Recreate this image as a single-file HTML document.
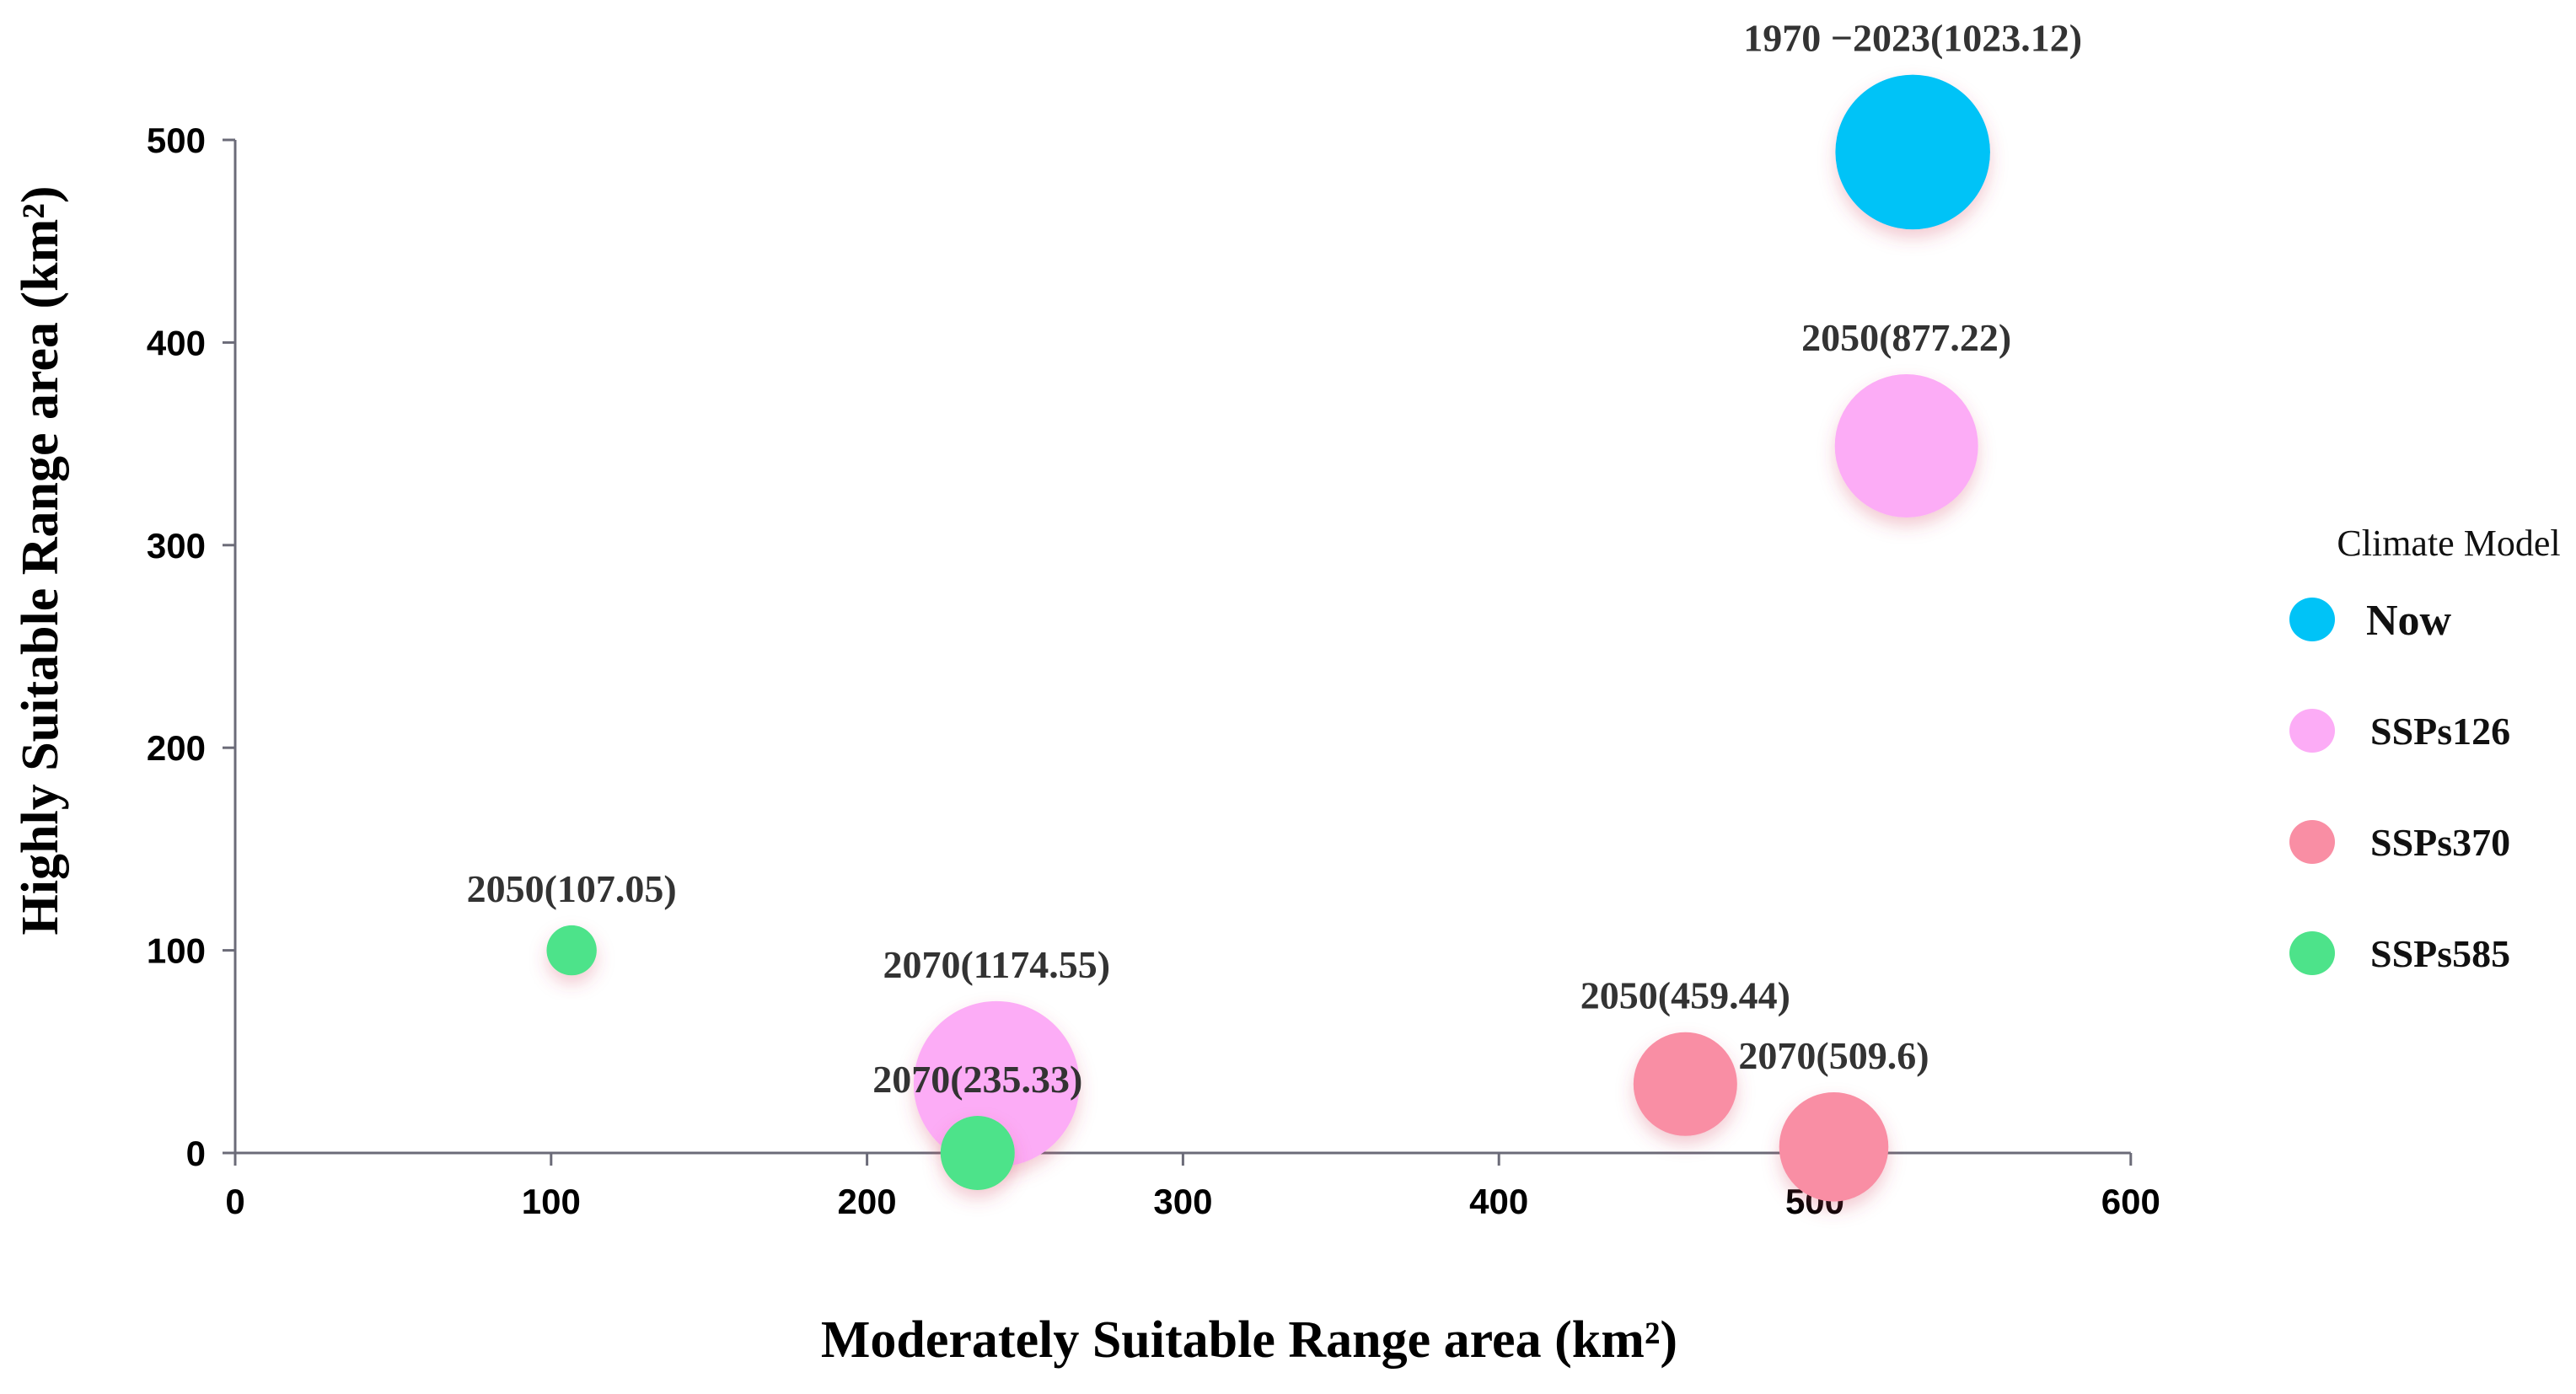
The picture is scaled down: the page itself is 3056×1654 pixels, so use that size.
<!DOCTYPE html>
<html><head><meta charset="utf-8">
<style>
html,body{margin:0;padding:0;background:#fff;}
svg{display:block;}
.tick{font-family:"Liberation Sans",sans-serif;font-weight:bold;font-size:42px;fill:#000;}
.ptlabel{font-family:"Liberation Serif",serif;font-weight:bold;font-size:46px;fill:#333;}
.axtitle{font-family:"Liberation Serif",serif;font-weight:bold;font-size:62px;fill:#000;}
</style></head>
<body>
<svg id="chart" width="3056" height="1654" viewBox="0 0 3056 1654" xmlns="http://www.w3.org/2000/svg">
<defs>
<filter id="sh" x="-50%" y="-50%" width="200%" height="200%">
<feDropShadow dx="0" dy="10" stdDeviation="10" flood-color="#d04060" flood-opacity="0.28"/>
</filter>
</defs>
<g id="axes"></g>
<g id="bubbles"></g>
<g id="legend"></g>
<text class="axtitle" x="1482" y="1610" text-anchor="middle">Moderately Suitable Range area (km²)</text>
<text class="axtitle" transform="translate(68,665) rotate(-90)" text-anchor="middle">Highly Suitable Range area (km²)</text>
</svg>
<script>
const xTicks = [0, 100, 200, 300, 400, 500, 600];
const yTicks = [0, 100, 200, 300, 400, 500];
const pointLabels = ["1970 −2023(1023.12)", "2050(877.22)", "2070(1174.55)", "2050(459.44)", "2070(509.6)", "2050(107.05)", "2070(235.33)"];
const pointSeries = ["Now", "SSPs126", "SSPs126", "SSPs370", "SSPs370", "SSPs585", "SSPs585"];
const xValues = [531, 529, 241, 459, 506, 106.5, 235];
const yValues = [494, 349, 34, 34, 3, 100, 0];
const sizeValues = [1023.12, 877.22, 1174.55, 459.44, 509.6, 107.05, 235.33];
const legendNames = ["Now", "SSPs126", "SSPs370", "SSPs585"];
const legendColors = ["#00c3f7", "#fcacf6", "#f98ea4", "#4de38a"];

const NS = "http://www.w3.org/2000/svg";
const X0 = 279, XPX = 3.748, Y0 = 1368, YPX = 2.404;
const xs = v => X0 + v * XPX;
const ys = v => Y0 - v * YPX;
const rs = v => 2.87 * Math.sqrt(v);
function mk(tag, attrs, parent) {
  const e = document.createElementNS(NS, tag);
  for (const k in attrs) e.setAttribute(k, attrs[k]);
  parent.appendChild(e);
  return e;
}
const axes = document.getElementById('axes');
const ax = mk('line', {x1: xs(0), y1: Y0, x2: xs(600), y2: Y0, stroke: '#6b6b78', 'stroke-width': 3}, axes);


const ay = mk('line', {x1: X0, y1: ys(0), x2: X0, y2: ys(500), stroke: '#6b6b78', 'stroke-width': 3}, axes);


xTicks.forEach(t => {
  const l = mk('line', {x1: xs(t), y1: Y0, x2: xs(t), y2: Y0 + 15, stroke: '#6b6b78', 'stroke-width': 3}, axes);
  
  
  const tx = mk('text', {x: xs(t), y: Y0 + 72, 'text-anchor': 'middle', class: 'tick'}, axes);
  tx.textContent = t;
  
  
});
yTicks.forEach(t => {
  const l = mk('line', {x1: X0 - 15, y1: ys(t), x2: X0, y2: ys(t), stroke: '#6b6b78', 'stroke-width': 3}, axes);
  
  
  const tx = mk('text', {x: 244, y: ys(t) + 15, 'text-anchor': 'end', class: 'tick'}, axes);
  tx.textContent = t;
  
  
});
const bub = document.getElementById('bubbles');
const order = [2, 0, 1, 3, 4, 5, 6];
order.forEach(i => {
  const cx = xs(xValues[i]), cy = ys(yValues[i]), r = rs(sizeValues[i]);
  const c = mk('circle', {cx: cx, cy: cy, r: r, fill: legendColors[legendNames.indexOf(pointSeries[i])], filter: 'url(#sh)'}, bub);
  
  
});
order.forEach(i => {
  const cx = xs(xValues[i]), cy = ys(yValues[i]), r = rs(sizeValues[i]);
  const t = mk('text', {x: cx, y: cy - r - 28, 'text-anchor': 'middle', class: 'ptlabel'}, bub);
  t.textContent = pointLabels[i];
  
  
});
const lg = document.getElementById('legend');
const lt = mk('text', {x: 2905, y: 659, 'text-anchor': 'middle', 'font-family': '"Liberation Serif",serif', 'font-size': 44, fill: '#111'}, lg);
lt.textContent = 'Climate Model';


legendNames.forEach((n, i) => {
  const y = 735 + i * 132;
  const c = mk('ellipse', {cx: 2743, cy: y, rx: 27, ry: 26, fill: legendColors[i]}, lg);
  
  
  const t = mk('text', {x: i === 0 ? 2807 : 2812, y: y + (i === 0 ? 18 : 16), 'font-family': '"Liberation Serif",serif', 'font-weight': 'bold', 'font-size': i === 0 ? 52 : 46, fill: '#111'}, lg);
  t.textContent = n;
  
  
});
</script>
</body></html>
